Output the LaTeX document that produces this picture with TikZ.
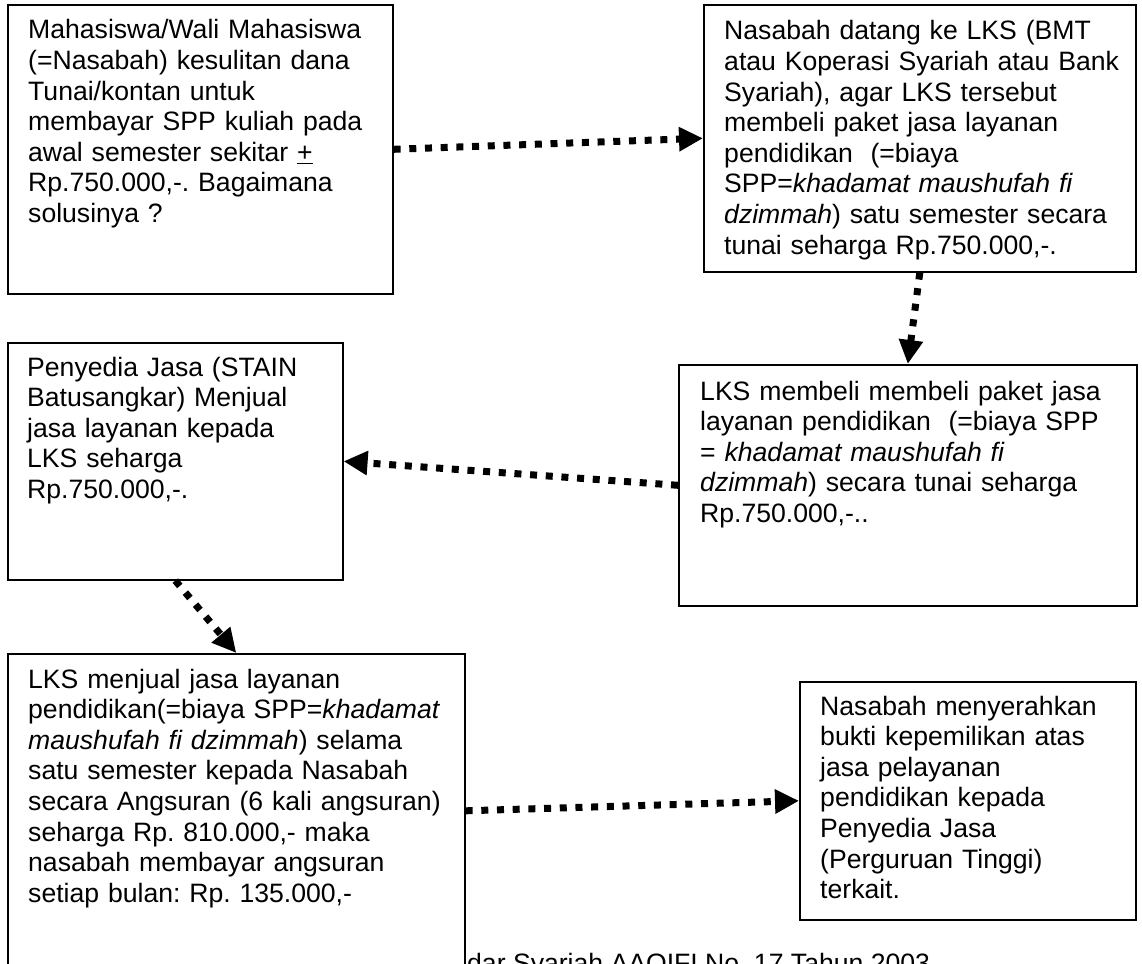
\documentclass[tikz,border=0pt]{standalone}
\usepackage{fontspec}
\setmainfont{Liberation Sans}
\usetikzlibrary{arrows.meta,calc}
\begin{document}
\frenchspacing
\begin{tikzpicture}[x=1pt,y=-1pt,
  box/.style={draw, line width=1.6pt, fill=white, anchor=north west, inner sep=0pt},
  txt/.style={anchor=base west, inner sep=0pt, text width=460pt, align=left, font=\fontsize{26.6}{30.6}\selectfont},
  srctxt/.style={anchor=base west, inner sep=0pt, font=\fontsize{26.6}{30.6}\selectfont},
  flow/.style={line width=7pt, dash pattern=on 7pt off 8.7pt, -{Triangle[length=24pt,width=23pt]}}
]
\useasboundingbox (0,0) rectangle (1142,963);
\clip (0,0) rectangle (1142,963);
\fill[white] (0,0) rectangle (1142,963);

% source line (partly hidden behind box 5)
\node[srctxt] (src) at (467,972) {dar Syariah AAOIFI No. 17 Tahun 2003};

% boxes
\node[box, minimum width=385pt, minimum height=289pt] (b1) at (7,4) {};
\node[box, minimum width=432pt, minimum height=267pt] (b2) at (703,4) {};
\node[box, minimum width=335pt, minimum height=237pt] (b3) at (7,342) {};
\node[box, minimum width=458pt, minimum height=241pt] (b4) at (678,364) {};
\node[box, minimum width=457pt, minimum height=314pt] (b5) at (7,653) {};
\node[box, minimum width=336pt, minimum height=238pt] (b6) at (799,681) {};

% texts
\node[txt] (t1) at ($(b1.north west)+(21,35)$) {Mahasiswa/Wali Mahasiswa\\
(=Nasabah) kesulitan dana\\
Tunai/kontan untuk\\
membayar SPP kuliah pada\\
awal semester sekitar \underline{+}\\
Rp.750.000,-. Bagaimana\\
solusinya ?};

\node[txt] (t2) at ($(b2.north west)+(21,36)$) {Nasabah datang ke LKS (BMT\\
atau Koperasi Syariah atau Bank\\
Syariah), agar LKS tersebut\\
membeli paket jasa layanan\\
pendidikan\ \ (=biaya\\
SPP=\textit{khadamat maushufah fi}\\
\textit{dzimmah}) satu semester secara\\
tunai seharga Rp.750.000,-.};

\node[txt] (t3) at ($(b3.north west)+(20,34)$) {Penyedia Jasa (STAIN\\
Batusangkar) Menjual\\
jasa layanan kepada\\
LKS seharga\\
Rp.750.000,-.};

\node[txt] (t4) at ($(b4.north west)+(22,36)$) {LKS membeli membeli paket jasa\\
layanan pendidikan\ \ (=biaya SPP\\
= \textit{khadamat maushufah fi}\\
\textit{dzimmah}) secara tunai seharga\\
Rp.750.000,-..};

\node[txt] (t5) at ($(b5.north west)+(21,35)$) {LKS menjual jasa layanan\\
pendidikan(=biaya SPP=\textit{khadamat}\\
\textit{maushufah fi dzimmah}) selama\\
satu semester kepada Nasabah\\
secara Angsuran (6 kali angsuran)\\
seharga Rp. 810.000,- maka\\
nasabah membayar angsuran\\
setiap bulan: Rp. 135.000,-};

\node[txt] (t6) at ($(b6.north west)+(21,34)$) {Nasabah menyerahkan\\
bukti kepemilikan atas\\
jasa pelayanan\\
pendidikan kepada\\
Penyedia Jasa\\
(Perguruan Tinggi)\\
terkait.};

% connectors
\draw[flow] (b1.east) -- (b2.west);
\draw[flow] (b2.south) -- (b4.north);
\draw[flow] (b4.west) -- (b3.east);
\draw[flow] (b3.south) -- (b5.north);
\draw[flow] (b5.east) -- (b6.west);
\end{tikzpicture}
\end{document}
